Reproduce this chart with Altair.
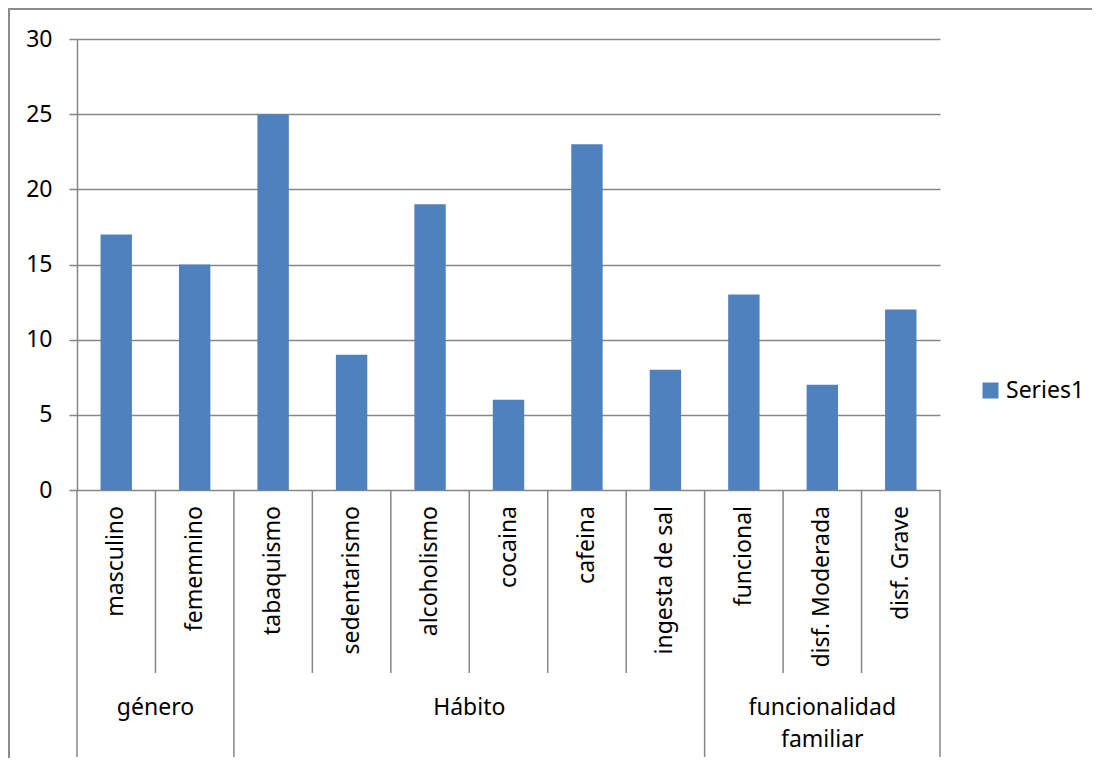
import altair as alt
import pandas as pd

categories = ["masculino", "fememnino", "tabaquismo", "sedentarismo", "alcoholismo",
              "cocaina", "cafeina", "ingesta de sal", "funcional", "disf. Moderada", "disf. Grave"]
values = [17, 15, 25, 9, 19, 6, 23, 8, 13, 7, 12]
groups = ["género", "Hábito", "funcionalidad"]
groups_line2 = ["", "", "familiar"]
group_sizes = [2, 6, 3]
series_name = "Series1"
y_ticks = [0, 5, 10, 15, 20, 25, 30]

FONT = "Noto Sans"
FS = 23
GRID = "#868686"
BAR = "#4F81BD"

n = len(categories)
bars = pd.DataFrame({
    "category": categories,
    "value": values,
    "base": [0] * n,
    "start": [i + 0.3 for i in range(n)],
    "end": [i + 0.7 for i in range(n)],
    "center": [i + 0.5 for i in range(n)],
    "series": [series_name] * n,
})

bounds = [0]
for s in group_sizes:
    bounds.append(bounds[-1] + s)
inner = pd.DataFrame({"pos": [i for i in range(1, n) if i not in bounds]})
outer = pd.DataFrame({"pos": bounds})
gcent = [(bounds[k] + bounds[k + 1]) / 2 for k in range(len(groups))]
glab = pd.DataFrame({"center": gcent, "l1": groups, "l2": groups_line2})

xs = alt.Scale(domain=[0, n], nice=False, zero=False)

bar = alt.Chart(bars).mark_bar().encode(
    x=alt.X("start:Q", scale=xs, axis=None),
    x2="end:Q",
    y=alt.Y("value:Q", scale=alt.Scale(domain=[0, 30], nice=False, padding=0),
            axis=alt.Axis(values=y_ticks, grid=True, gridColor=GRID, gridWidth=1.5,
                          domainColor=GRID, domainWidth=1.5, tickColor=GRID, tickWidth=1.5,
                          tickSize=8, labelPadding=17, labelFont=FONT, labelFontSize=FS,
                          labelColor="black", title=None)),
    y2="base:Q",
    color=alt.Color("series:N", scale=alt.Scale(domain=[series_name], range=[BAR]),
                    legend=alt.Legend(title=None, orient="none", legendX=902, legendY=340,
                                      symbolType="square", symbolSize=256, symbolStrokeWidth=0,
                                      labelFont=FONT, labelFontSize=FS, labelColor="black",
                                      labelOffset=4, padding=0)),
)

inner_rules = alt.Chart(inner).mark_rule(color=GRID, strokeWidth=1.5).encode(
    x=alt.X("pos:Q", scale=xs), y=alt.value(451), y2=alt.value(634))
outer_rules = alt.Chart(outer).mark_rule(color=GRID, strokeWidth=1.5).encode(
    x=alt.X("pos:Q", scale=xs), y=alt.value(451), y2=alt.value(718))

cat_text = alt.Chart(bars).mark_text(angle=270, align="right", baseline="middle",
                                     font=FONT, fontSize=FS, color="black").encode(
    x=alt.X("center:Q", scale=xs), y=alt.value(467), text="category:N")

g1 = alt.Chart(glab).mark_text(align="center", baseline="middle", font=FONT,
                               fontSize=FS, color="black").encode(
    x=alt.X("center:Q", scale=xs), y=alt.value(669), text="l1:N")
g2 = alt.Chart(glab).mark_text(align="center", baseline="middle", font=FONT,
                               fontSize=FS, color="black").encode(
    x=alt.X("center:Q", scale=xs), y=alt.value(701), text="l2:N")

frame = alt.Chart(pd.DataFrame({"a": [0]})).mark_rect(
    filled=False, stroke="#8C8C8C", strokeWidth=2).encode(
    x=alt.value(-68), x2=alt.value(1040), y=alt.value(-30), y2=alt.value(760))

chart = alt.layer(frame, bar, inner_rules, outer_rules, cat_text, g1, g2).properties(
    width=863, height=451,
    autosize=alt.AutoSizeParams(type="none"),
    padding={"left": 69, "top": 31, "right": 152, "bottom": 268},
).configure(background="white", view={"stroke": None})

chart.save("out.html", embed_options={"renderer": "svg", "actions": False})
